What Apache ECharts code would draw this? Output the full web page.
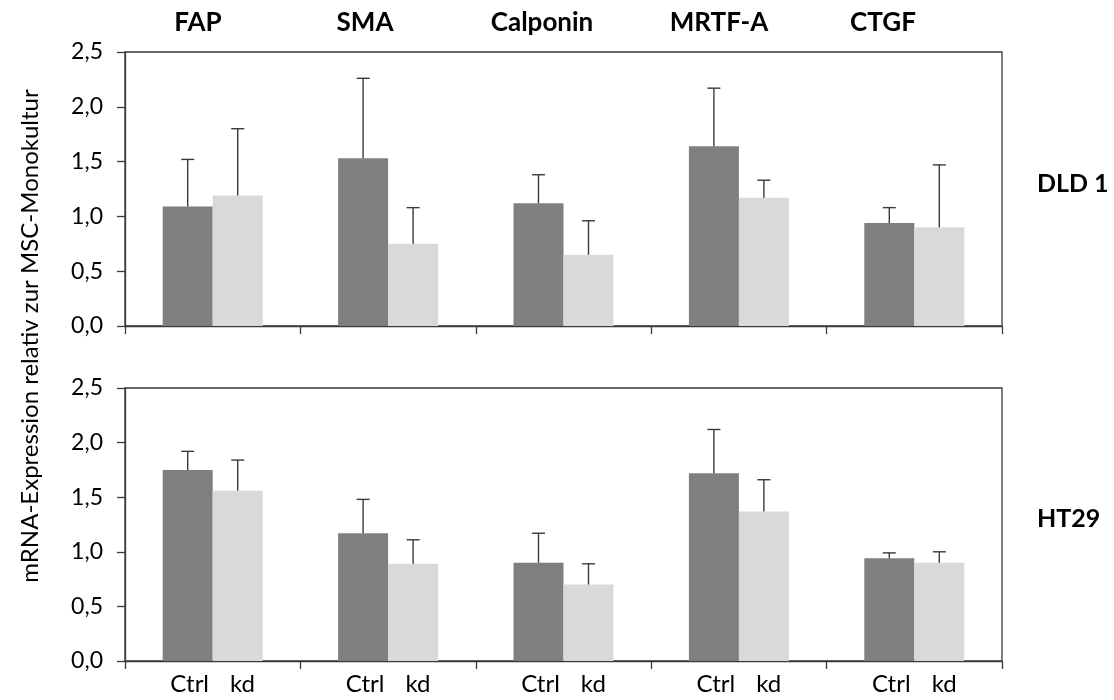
<!DOCTYPE html>
<html>
<head>
<meta charset="utf-8">
<script src="https://cdn.jsdelivr.net/npm/echarts@6/dist/echarts.min.js"></script>
<style>
  html, body { margin: 0; padding: 0; background: #fff; }
  #chart { width: 1114px; height: 700px; }
</style>
</head>
<body>
<div id="chart"></div>
<script>
// ---- data ----
const categories = ['FAP', 'SMA', 'Calponin', 'MRTF-A', 'CTGF'];
const groupLabels = ['Ctrl', 'kd'];
const panels = ['DLD 1', 'HT29'];
const yTicks = [0, 0.5, 1.0, 1.5, 2.0, 2.5];

const dld1Ctrl   = [1.09, 1.53, 1.12, 1.64, 0.94];
const dld1CtrlSd = [0.43, 0.73, 0.26, 0.53, 0.14];
const dld1Kd     = [1.19, 0.75, 0.65, 1.17, 0.90];
const dld1KdSd   = [0.61, 0.33, 0.31, 0.16, 0.57];

const ht29Ctrl   = [1.75, 1.17, 0.90, 1.72, 0.94];
const ht29CtrlSd = [0.17, 0.31, 0.27, 0.40, 0.05];
const ht29Kd     = [1.56, 0.89, 0.70, 1.37, 0.90];
const ht29KdSd   = [0.28, 0.22, 0.19, 0.29, 0.10];

// ---- style ----
const FONT = 'Lato';
const BAR_W = 50;
const CTRL_COLOR = '#7f7f7f';
const KD_COLOR = '#d9d9d9';
const LINE_COLOR = '#3a3a3a';
const TEXT_COLOR = '#000';

const chart = echarts.init(document.getElementById('chart'), null, { renderer: 'canvas' });

function errSeries(name, gridIdx, means, sds, offset) {
  return {
    name: name + '-err',
    type: 'custom',
    xAxisIndex: gridIdx,
    yAxisIndex: gridIdx,
    z: 10,
    silent: true,
    data: means.map((m, i) => [i, m, m + sds[i]]),
    renderItem: function (params, api) {
      const c = api.value(0);
      const base = api.coord([c, api.value(1)]);
      const top = api.coord([c, api.value(2)]);
      const x = base[0] + offset;
      const style = { stroke: LINE_COLOR, lineWidth: 1.4 };
      return {
        type: 'group',
        children: [
          { type: 'line', shape: { x1: x, y1: base[1], x2: x, y2: top[1] }, style: style },
          { type: 'line', shape: { x1: x - 6.5, y1: top[1], x2: x + 6.5, y2: top[1] }, style: style }
        ]
      };
    }
  };
}

function barSeries(name, gridIdx, vals, color) {
  return {
    name: name,
    type: 'bar',
    xAxisIndex: gridIdx,
    yAxisIndex: gridIdx,
    barWidth: BAR_W,
    barGap: '0%',
    itemStyle: { color: color },
    data: vals
  };
}

function xAxis(gridIdx, showLabels) {
  return {
    type: 'category',
    gridIndex: gridIdx,
    data: categories,
    axisLine: { show: true, lineStyle: { color: LINE_COLOR, width: 1.3 } },
    axisTick: { show: true, length: 8, alignWithLabel: false, lineStyle: { color: LINE_COLOR, width: 1.3 } },
    axisLabel: showLabels ? {
      show: true,
      margin: 11,
      interval: 0,
      formatter: function () { return '{c|' + groupLabels[0] + '}{k|' + groupLabels[1] + '}'; },
      rich: {
        c: { fontFamily: FONT, fontSize: 24, color: TEXT_COLOR, padding: [0, 21, 0, 0] },
        k: { fontFamily: FONT, fontSize: 24, color: TEXT_COLOR }
      }
    } : { show: false }
  };
}

function yAxis(gridIdx) {
  return {
    type: 'value',
    gridIndex: gridIdx,
    min: 0,
    max: 2.5,
    interval: 0.5,
    splitLine: { show: false },
    axisLine: { show: true, lineStyle: { color: LINE_COLOR, width: 1.3 } },
    axisTick: { show: true, length: 8, lineStyle: { color: LINE_COLOR, width: 1.3 } },
    axisLabel: {
      margin: 22,
      fontFamily: FONT,
      fontSize: 23,
      color: TEXT_COLOR,
      formatter: function (v) { return v.toFixed(1).replace('.', ','); }
    }
  };
}

const titleCenters = [198, 365, 542, 719, 883];

const option = {
  backgroundColor: '#fff',
  animation: false,
  grid: [
    { left: 125, right: 112, top: 52, height: 274, show: true, borderColor: LINE_COLOR, borderWidth: 1.3, backgroundColor: 'transparent' },
    { left: 125, right: 112, top: 388, height: 273, show: true, borderColor: LINE_COLOR, borderWidth: 1.3, backgroundColor: 'transparent' }
  ],
  xAxis: [xAxis(0, false), xAxis(1, true)],
  yAxis: [yAxis(0), yAxis(1)],
  series: [
    barSeries('DLD1 Ctrl', 0, dld1Ctrl, CTRL_COLOR),
    barSeries('DLD1 kd', 0, dld1Kd, KD_COLOR),
    barSeries('HT29 Ctrl', 1, ht29Ctrl, CTRL_COLOR),
    barSeries('HT29 kd', 1, ht29Kd, KD_COLOR),
    errSeries('DLD1 Ctrl', 0, dld1Ctrl, dld1CtrlSd, -BAR_W / 2),
    errSeries('DLD1 kd', 0, dld1Kd, dld1KdSd, BAR_W / 2),
    errSeries('HT29 Ctrl', 1, ht29Ctrl, ht29CtrlSd, -BAR_W / 2),
    errSeries('HT29 kd', 1, ht29Kd, ht29KdSd, BAR_W / 2)
  ],
  graphic: [
    ...categories.map((c, i) => ({
      type: 'text',
      x: titleCenters[i],
      y: 23,
      style: { text: c, fontFamily: FONT, fontWeight: 'bold', fontSize: 26, fill: TEXT_COLOR, textAlign: 'center', textVerticalAlign: 'middle' }
    })),
    {
      type: 'text', x: 1037, y: 184,
      style: { text: panels[0], fontFamily: FONT, fontWeight: 'bold', fontSize: 25, fill: TEXT_COLOR, textAlign: 'left', textVerticalAlign: 'middle' }
    },
    {
      type: 'text', x: 1037, y: 519,
      style: { text: panels[1], fontFamily: FONT, fontWeight: 'bold', fontSize: 25, fill: TEXT_COLOR, textAlign: 'left', textVerticalAlign: 'middle' }
    },
    {
      type: 'text', x: 30, y: 336, rotation: Math.PI / 2,
      style: { text: 'mRNA-Expression relativ zur MSC-Monokultur', fontFamily: FONT, fontSize: 24, fill: TEXT_COLOR, textAlign: 'center', textVerticalAlign: 'middle' }
    }
  ]
};

chart.setOption(option);
</script>
</body>
</html>
